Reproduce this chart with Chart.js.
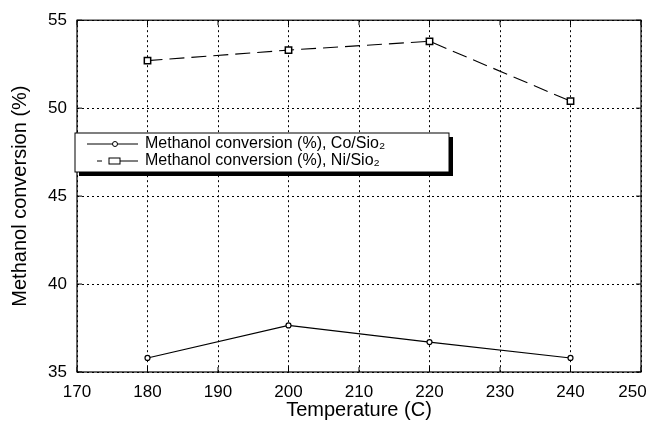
<!DOCTYPE html>
<html>
<head>
<meta charset="utf-8">
<script src="https://cdn.jsdelivr.net/npm/chart.js@4"></script>
<style>
  html, body { margin: 0; padding: 0; background: #fff; }
  #wrap { width: 648px; height: 424px; }
</style>
</head>
<body>
<div id="wrap"><canvas id="chart"></canvas></div>
<script>
const temperatures = [180, 200, 220, 240];
const coConversion = [35.8, 37.65, 36.7, 35.8];
const niConversion = [52.7, 53.3, 53.8, 50.4];
const seriesLabels = ['Methanol conversion (%), Co/Sio₂', 'Methanol conversion (%), Ni/Sio₂'];
const xTicks = [170, 180, 190, 200, 210, 220, 230, 240, 250];
const yTicks = [35, 40, 45, 50, 55];

const font = '"Liberation Sans", Arial, sans-serif';

// frame, inner tick marks and the boxed legend
const framePlugin = {
  id: 'frame',
  afterDatasetsDraw(chart) {
    const { ctx, chartArea: a, scales } = chart;
    ctx.save();
    ctx.strokeStyle = '#000';
    ctx.lineWidth = 1.2;
    ctx.strokeRect(a.left, a.top, a.right - a.left, a.bottom - a.top);
    ctx.lineWidth = 1;
    ctx.beginPath();
    xTicks.forEach(v => {
      const x = scales.x.getPixelForValue(v);
      ctx.moveTo(x, a.bottom); ctx.lineTo(x, a.bottom - 5);
      ctx.moveTo(x, a.top); ctx.lineTo(x, a.top + 5);
    });
    yTicks.forEach(v => {
      const y = scales.y.getPixelForValue(v);
      ctx.moveTo(a.left, y); ctx.lineTo(a.left + 5, y);
      ctx.moveTo(a.right, y); ctx.lineTo(a.right - 5, y);
    });
    ctx.stroke();

    // legend box
    const lx = a.left - 2, ly = 133, lw = 374, lh = 39;
    ctx.fillStyle = '#000';
    ctx.fillRect(lx + 4, ly + 4, lw, lh);
    ctx.fillStyle = '#fff';
    ctx.fillRect(lx, ly, lw, lh);
    ctx.strokeStyle = '#000';
    ctx.lineWidth = 1;
    ctx.strokeRect(lx, ly, lw, lh);
    ctx.font = '16px ' + font;
    ctx.textBaseline = 'middle';
    chart.data.datasets.forEach((ds, i) => {
      const yy = ly + 11 + i * 17;
      const mx = lx + 40;
      ctx.strokeStyle = '#000';
      ctx.lineWidth = 1;
      ctx.beginPath();
      if (ds.pointStyle === 'rect') {
        ctx.moveTo(lx + 22, yy); ctx.lineTo(lx + 27, yy);
        ctx.moveTo(mx + 5, yy); ctx.lineTo(lx + 63, yy);
      } else {
        ctx.moveTo(lx + 12, yy); ctx.lineTo(lx + 63, yy);
      }
      ctx.stroke();
      ctx.fillStyle = '#fff';
      if (ds.pointStyle === 'rect') {
        ctx.fillRect(mx - 6, yy - 3, 11, 6);
        ctx.strokeRect(mx - 6, yy - 3, 11, 6);
      } else {
        ctx.beginPath();
        ctx.arc(mx, yy, 2.5, 0, Math.PI * 2);
        ctx.fill(); ctx.stroke();
      }
      ctx.fillStyle = '#000';
      ctx.fillText(ds.label, lx + 70, yy);
    });
    ctx.restore();
  }
};

const gridDash = { display: false, dash: [2, 3] };

new Chart(document.getElementById('chart'), {
  type: 'line',
  data: {
    datasets: [
      {
        label: seriesLabels[0],
        data: temperatures.map((t, i) => ({ x: t, y: coConversion[i] })),
        borderColor: '#000',
        borderWidth: 1.1,
        pointStyle: 'circle',
        pointRadius: 2.5,
        pointBackgroundColor: '#fff',
        pointBorderColor: '#000',
        pointBorderWidth: 1.2,
        tension: 0
      },
      {
        label: seriesLabels[1],
        data: temperatures.map((t, i) => ({ x: t, y: niConversion[i] })),
        borderColor: '#000',
        borderWidth: 1.1,
        borderDash: [15, 7],
        pointStyle: 'rect',
        pointRadius: 4.5,
        pointBackgroundColor: '#fff',
        pointBorderColor: '#000',
        pointBorderWidth: 1.5,
        tension: 0
      }
    ]
  },
  options: {
    responsive: true,
    maintainAspectRatio: false,
    animation: false,
    layout: { padding: { top: 17, right: 7, left: 0, bottom: 0 } },
    plugins: { legend: { display: false }, tooltip: { enabled: false } },
    scales: {
      x: {
        type: 'linear',
        min: 170, max: 250,
        afterBuildTicks: s => { s.ticks = xTicks.map(v => ({ value: v })); },
        afterFit: s => { s.height = 52; s.paddingLeft = 0; s.paddingRight = 0; },
        border: gridDash,
        grid: { color: '#000', lineWidth: 1, drawTicks: false },
        // last label is nudged left so it stays on the page, as in the original
        ticks: {
          color: '#000', font: { family: font, size: 17 }, padding: 10, maxRotation: 0,
          callback: v => v === 250 ? v + '\u2003' : String(v)
        },
        title: { display: true, text: 'Temperature (C)', color: '#000', font: { family: font, size: 20 }, padding: { top: 0, bottom: 2 } }
      },
      y: {
        min: 35, max: 55,
        afterBuildTicks: s => { s.ticks = yTicks.map(v => ({ value: v })); },
        afterFit: s => { s.width = 77; },
        border: gridDash,
        grid: { color: '#000', lineWidth: 1, drawTicks: false },
        ticks: { color: '#000', font: { family: font, size: 17 }, padding: 10 },
        title: { display: true, text: 'Methanol conversion (%)', color: '#000', font: { family: font, size: 20 }, padding: { top: 8, bottom: 4 } }
      }
    }
  },
  plugins: [framePlugin]
});
</script>
</body>
</html>
